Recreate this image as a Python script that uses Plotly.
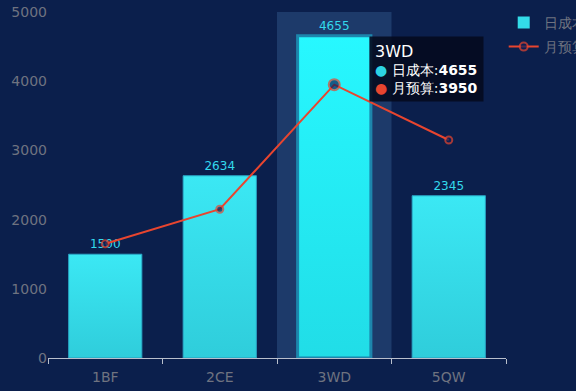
import plotly.graph_objects as go

categories = ["1BF", "2CE", "3WD", "5QW"]
daily_cost = [1500, 2634, 4655, 2345]
monthly_budget = [1650, 2150, 3950, 3150]
y_ticks = [0, 1000, 2000, 3000, 4000, 5000]
hover_index = 2

BG = "#0b1f4c"
BAR_W = 0.64
n = len(categories)
grad_normal = [[0, "#2fcddb"], [1, "#3be8f4"]]
grad_hover = [[0, "#21dde7"], [1, "#27f8ff"]]

fig = go.Figure()

# bar trace: legend entry and value labels
fig.add_trace(go.Bar(
    x=categories, y=daily_cost, name="日成本", width=BAR_W, legendgroup="a",
    marker=dict(color="#33dbe8", line=dict(width=0)),
    text=[str(v) for v in daily_cost], textposition="outside",
    textfont=dict(color="#33d9ec", size=12, family="DejaVu Sans"),
    cliponaxis=False, hoverinfo="skip",
))

# gradient fill of each bar, on an overlaying numeric axis with the same scale
for i, v in enumerate(daily_cost):
    hov = i == hover_index
    fig.add_trace(go.Scatter(
        x=[i - BAR_W / 2, i + BAR_W / 2, i + BAR_W / 2, i - BAR_W / 2, i - BAR_W / 2],
        y=[0, 0, v, v, 0], xaxis="x2", mode="lines", fill="toself",
        fillgradient=dict(type="vertical", colorscale=grad_hover if hov else grad_normal,
                          start=0, stop=v),
        line=dict(color="#1d86ad" if hov else "#2799bb", width=3 if hov else 1),
        showlegend=False, hoverinfo="skip",
    ))

marker_sizes = [7 if i != hover_index else 11 for i in range(n)]
fig.add_trace(go.Scatter(
    x=list(range(n)), y=monthly_budget, xaxis="x2", name="月预算", mode="lines+markers",
    legendgroup="b",
    line=dict(color="#e8452f", width=2),
    marker=dict(size=marker_sizes, color="#0c1e58", line=dict(color="#e8452f", width=2)),
    hoverinfo="skip",
))

# axis pointer shadow on hovered category
fig.add_shape(type="rect", xref="x", yref="paper",
              x0=hover_index - 0.5, x1=hover_index + 0.5, y0=0, y1=1,
              fillcolor="#1d3a6a", line=dict(width=0), layer="below")

# tooltip
tip = (f"<span style='font-size:16px'>{categories[hover_index]}</span><br>"
       f"<span style='color:#2cd3e3'>●</span> 日成本:<b>{daily_cost[hover_index]}</b><br>"
       f"<span style='color:#e8452f'>●</span> 月预算:<b>{monthly_budget[hover_index]}</b>")
fig.add_annotation(x=hover_index + 0.3, y=4655, xref="x", yref="y",
                   xanchor="left", yanchor="top", text=tip, showarrow=False,
                   align="left", bgcolor="rgba(5,10,30,0.88)", borderpad=5,
                   font=dict(color="white", size=14, family="DejaVu Sans"))

fig.update_layout(
    width=576, height=391,
    margin=dict(l=48, r=70, t=12, b=33, autoexpand=False),
    paper_bgcolor=BG, plot_bgcolor=BG,
    showlegend=True,
    legend=dict(x=0.995, y=1.015, xanchor="left", yanchor="top",
                font=dict(color="#6f7380", size=14, family="DejaVu Sans"),
                bgcolor="rgba(0,0,0,0)", itemwidth=30, tracegroupgap=3),
    bargap=0.36,
    xaxis2=dict(overlaying="x", range=[-0.5, n - 0.5], visible=False),
)
fig.layout.xaxis.update(type="category", showgrid=False, showline=True, linecolor="#b9bfcc",
                        linewidth=1, ticks="outside", tickson="boundaries", ticklen=5,
                        tickcolor="#b9bfcc", automargin=False, ticklabelstandoff=6,
                        range=[-0.5, n - 0.5],
                        tickfont=dict(color="#6f7380", size=14, family="DejaVu Sans"))
fig.update_yaxes(range=[0, 5000], tickvals=y_ticks, showgrid=False, zeroline=False,
                 showline=False, automargin=False,
                 tickfont=dict(color="#6f7380", size=14, family="DejaVu Sans"))

fig.write_html("out.html", config={"displayModeBar": False},
               post_script="document.body.style.margin='0';document.body.style.background='#0b1f4c';")
